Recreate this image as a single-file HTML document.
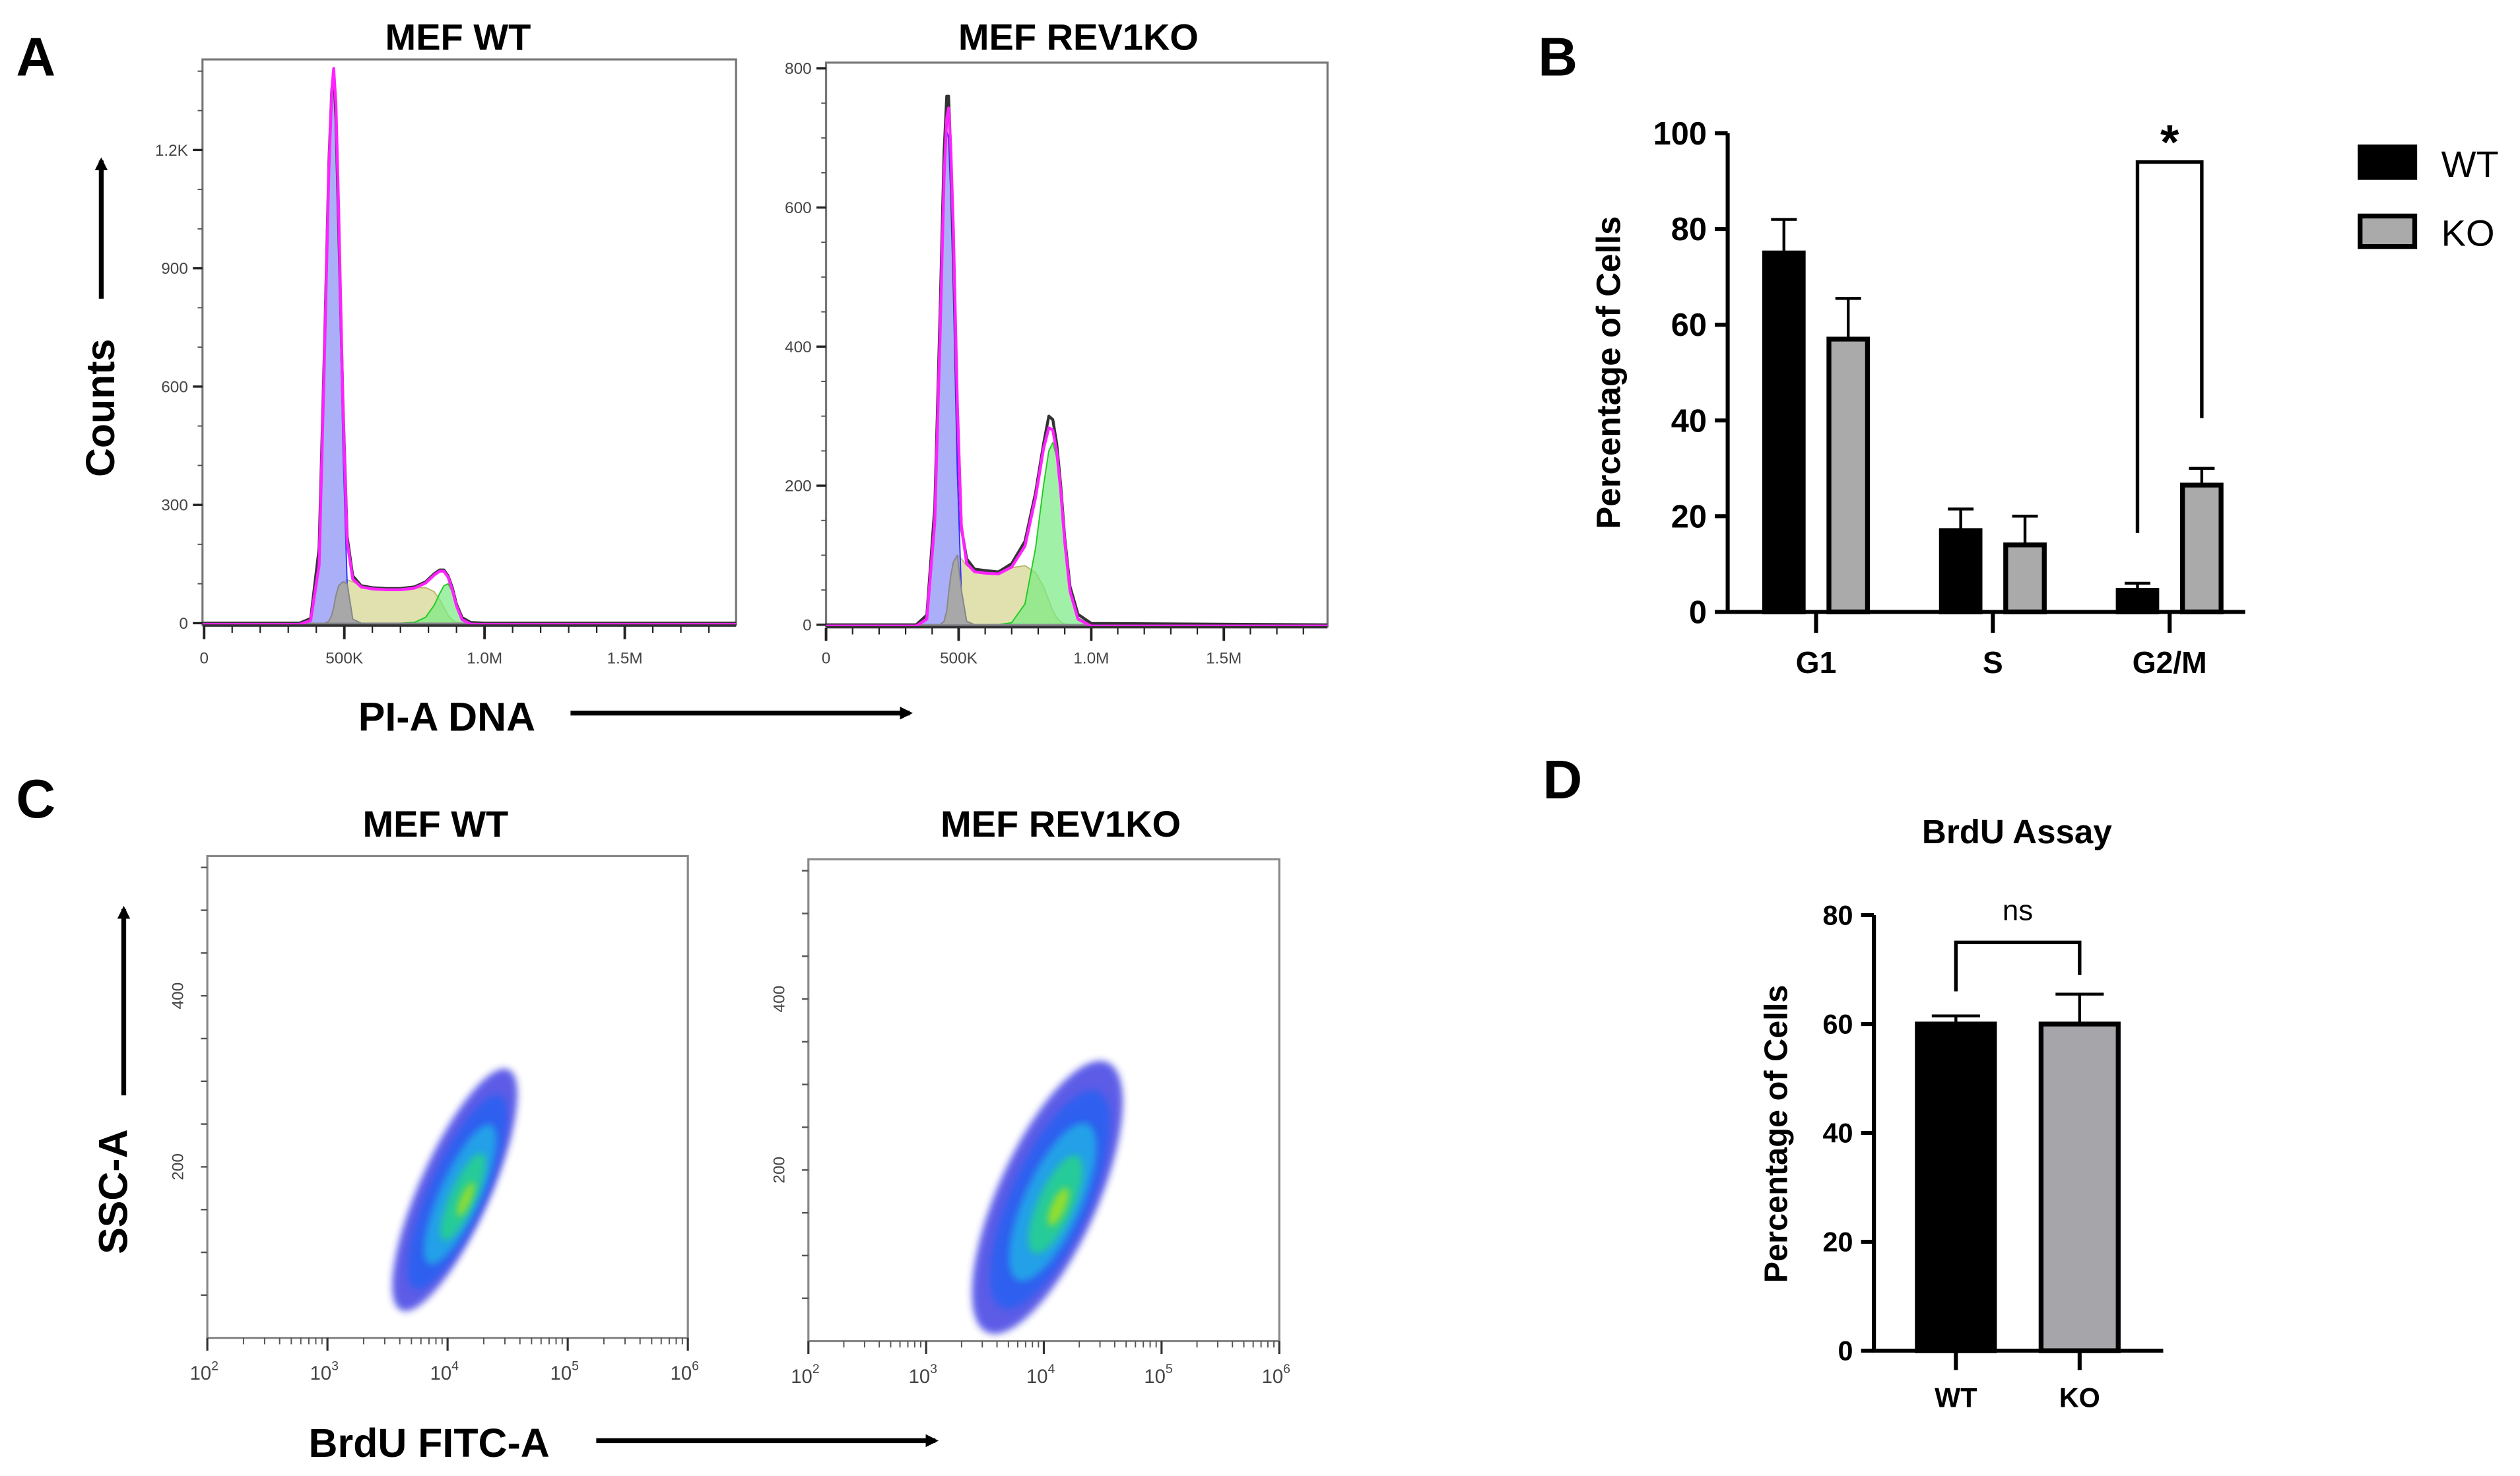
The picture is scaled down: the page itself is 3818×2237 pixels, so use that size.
<!DOCTYPE html>
<html><head><meta charset="utf-8">
<style>
html,body{margin:0;padding:0;background:#fff;}
svg{display:block;}
text{font-family:"Liberation Sans",sans-serif;}
.b{font-weight:bold;}
.tk{font-size:10px;fill:#444;}
</style></head>
<body>
<svg id="fig" xmlns="http://www.w3.org/2000/svg" width="3818" height="2237" viewBox="0 0 1568 919" preserveAspectRatio="none">
<defs>
<filter id="blur1" x="-50%" y="-50%" width="200%" height="200%"><feGaussianBlur stdDeviation="2.2"/></filter>
<marker id="ah" markerWidth="8" markerHeight="8" refX="6" refY="4" orient="auto" markerUnits="userSpaceOnUse"><path d="M0,0 L8,4 L0,8 z" fill="#000"/></marker>
</defs>
<text x="10" y="47" class="b" font-size="34">A</text>
<text x="957" y="47" class="b" font-size="34">B</text>
<text x="10" y="509" class="b" font-size="34">C</text>
<text x="960" y="497" class="b" font-size="34">D</text>

<text x="285" y="31" class="b" font-size="23" text-anchor="middle">MEF WT</text>
<text x="671" y="31" class="b" font-size="23" text-anchor="middle">MEF REV1KO</text>
<text transform="translate(71,254) rotate(-90)" class="b" font-size="25" text-anchor="middle">Counts</text>
<line x1="63" y1="186" x2="63" y2="100" stroke="#000" stroke-width="3" marker-end="url(#ah)"/>
<text x="278" y="455" class="b" font-size="25" text-anchor="middle">PI-A DNA</text>
<line x1="355" y1="444" x2="566" y2="444" stroke="#000" stroke-width="3" marker-end="url(#ah)"/>
<g id="histA"></g>

<text transform="translate(1008,232) rotate(-90)" class="b" font-size="21" text-anchor="middle">Percentage of Cells</text>
<g id="barB"></g>
<rect x="1467" y="90" width="37" height="22" fill="#000"/>
<text x="1519" y="110" font-size="23">WT</text>
<rect x="1468.5" y="134.5" width="34" height="19" fill="#aaa" stroke="#000" stroke-width="3"/>
<text x="1519" y="153" font-size="23">KO</text>

<text x="271" y="521" class="b" font-size="23" text-anchor="middle">MEF WT</text>
<text x="660" y="521" class="b" font-size="23" text-anchor="middle">MEF REV1KO</text>
<text transform="translate(79,742) rotate(-90)" class="b" font-size="25" text-anchor="middle">SSC-A</text>
<line x1="77" y1="682" x2="77" y2="566" stroke="#000" stroke-width="3" marker-end="url(#ah)"/>
<text x="267" y="907" class="b" font-size="25" text-anchor="middle">BrdU FITC-A</text>
<line x1="371" y1="897" x2="582" y2="897" stroke="#000" stroke-width="3" marker-end="url(#ah)"/>
<g id="scatC"></g>

<text x="1255" y="525" class="b" font-size="21" text-anchor="middle">BrdU Assay</text>
<text transform="translate(1112,706) rotate(-90)" class="b" font-size="20" text-anchor="middle">Percentage of Cells</text>
<g id="barD"></g>
</svg>
<script>
// ---------- Panel A data ----------
const dnaK = [340,380,410,430,445,455,462,470,480,495,510,530,560,600,650,700,750,790,820,840,855,870,885,900,920,950,1000];
const wtG1 = [0,10,150,700,1150,1330,1370,1250,950,450,100,10,0,0,0,0,0,0,0,0,0,0,0,0,0,0,0];
const wtS  = [0,0,0,0,5,20,40,70,95,105,110,105,95,90,88,88,90,90,80,60,40,20,8,2,0,0,0];
const wtG2 = [0,0,0,0,0,0,0,0,0,0,0,0,0,0,0,0,2,15,45,75,95,100,80,45,12,1,0];
const wtObs = [0,12,190,720,1170,1350,1400,1280,1000,560,220,120,95,90,88,88,92,105,125,135,135,120,90,48,14,2,0];
const koG1 = [0,10,150,420,640,710,700,620,480,220,50,5,0,0,0,0,0,0,0,0,0,0,0,0,0,0,0];
const koS  = [0,0,0,0,5,20,45,70,90,100,95,85,78,76,75,82,85,75,55,35,20,10,4,1,0,0,0];
const koG2 = [0,0,0,0,0,0,0,0,0,0,0,0,0,0,0,3,30,110,200,250,262,240,190,120,50,10,0];
const koObs = [0,14,170,450,680,760,760,680,540,310,140,95,80,78,76,88,120,190,260,300,295,260,200,125,55,15,2];
const wtYTicks = [0,300,600,900,1200];
const wtYLabels = ["0","300","600","900","1.2K"];
const koYTicks = [0,200,400,600,800];
const koYLabels = ["0","200","400","600","800"];
const dnaTicks = [0,500,1000,1500];
const dnaLabels = ["0","500K","1.0M","1.5M"];

// ---------- Panel B data ----------
const phases = ["G1","S","G2/M"];
const bWT = [75,17,4.5];
const bWTerr = [7,4.5,1.5];
const bKO = [57,14,26.5];
const bKOerr = [8.5,6,3.5];
const bTicks = [0,20,40,60,80,100];

// ---------- Panel C data ----------
const scatCenterLog = [4.06, 4.03];
const scatCenterSSC = [173, 168];
const scatMajor = [82, 92];
const scatMinor = [22, 31];
const scatLevels = [1, 0.8, 0.58, 0.36, 0.14];
const scatColors = ["#2828e0","#2a60f0","#20a8e8","#28d090","#a0e020"];
const sscTicks = [200,400];
const logTicks = [2,3,4,5,6];

// ---------- Panel D data ----------
const dCats = ["WT","KO"];
const dVals = [60,60];
const dErr = [1.5,5.5];
const dTicks = [0,20,40,60,80];

const NS = "http://www.w3.org/2000/svg";
function mk(tag, attrs, parent){const e=document.createElementNS(NS,tag);for(const k in attrs)e.setAttribute(k,attrs[k]);parent.appendChild(e);return e;}

// ---------- Panel A drawing ----------
const gA = document.getElementById('histA');
function drawHist(opt){
  const g = mk('g',{},gA);
  
  
  const X = v => opt.x0 + v*opt.kx;
  const Y = c => opt.y0 - c*opt.ky;
  const box = mk('rect',{x:opt.bl,y:opt.bt,width:opt.br-opt.bl,height:opt.y0+1-opt.bt,fill:'none',stroke:'#777','stroke-width':1.3},g);
  
  
  function area(vals, fill, stroke, nm){
    let d = 'M'+X(dnaK[0])+','+Y(0);
    vals.forEach((v,i)=>{d+=' L'+X(dnaK[i]).toFixed(2)+','+Y(v).toFixed(2);});
    d += ' L'+X(dnaK[dnaK.length-1])+','+Y(0)+' Z';
    const p = mk('path',{d:d,fill:fill,stroke:stroke,'stroke-width':0.8,'stroke-linejoin':'round'},g);
    
    
  }
  area(opt.s, 'rgba(215,215,150,0.75)', '#b8b870', 'area-s-phase');
  area(opt.g2, 'rgba(120,235,130,0.7)', '#22cc22', 'area-g2m-phase');
  area(opt.g1, 'rgba(150,155,245,0.8)', '#3030ff', 'area-g1-phase');
  area(opt.g1.map((v,i)=>Math.min(v,opt.s[i])), '#a8a8a8', '#888', 'area-overlap');
  function line(vals, color, w, nm, dy){
    let d='M'+opt.bl+','+(Y(0)+dy);
    vals.forEach((v,i)=>{d+=' L'+X(dnaK[i]).toFixed(2)+','+(Y(v)+dy).toFixed(2);});
    d+=' L'+opt.br+','+(Y(0)+dy);
    const p = mk('path',{d:d,fill:'none',stroke:color,'stroke-width':w,'stroke-linejoin':'round'},g);
    
    
  }
  line(opt.obs, '#333', 1.8, 'observed-histogram-line', 0);
  line(opt.g1.map((v,i)=>v+opt.s[i]+opt.g2[i]), '#ff22ff', 1.8, 'model-fit-line', 0.8);
  const base = mk('line',{x1:opt.bl,y1:Y(0)+1.5,x2:opt.br,y2:Y(0)+1.5,stroke:'#333','stroke-width':1.5},g);
  
  
  opt.yt.forEach((t,i)=>{
    const tl = mk('line',{x1:opt.bl-6,y1:Y(t),x2:opt.bl,y2:Y(t),stroke:'#222','stroke-width':1.4},g);
    
    
    const tx = mk('text',{x:opt.bl-9,y:Y(t)+3.5,'text-anchor':'end','class':'tk'},g);
    
    
    tx.textContent = opt.yl[i];
  });
  for(let k=0;k<=opt.maxMinor;k++){
    const t = k*opt.minorStep;
    if (opt.yt.includes(t)) continue;
    const ml = mk('line',{x1:opt.bl-3,y1:Y(t),x2:opt.bl,y2:Y(t),stroke:'#555','stroke-width':0.8},g);
    
    
  }
  for(let v=0; X(v)<=opt.br+0.5; v+=100){
    const major = dnaTicks.includes(v);
    const xl = mk('line',{x1:X(v),y1:Y(0)+2,x2:X(v),y2:Y(0)+(major?10:6),stroke:'#222','stroke-width':major?1.6:0.9},g);
    
    
  }
  dnaTicks.forEach((v,i)=>{
    const tx = mk('text',{x:X(v),y:413,'text-anchor':'middle','class':'tk'},g);
    
    
    tx.textContent = dnaLabels[i];
  });
}
drawHist({name:'histogram-wt',x0:127,kx:0.1745,y0:388,ky:0.2455,bl:126,br:458,bt:37,g1:wtG1,s:wtS,g2:wtG2,obs:wtObs,yt:wtYTicks,yl:wtYLabels,minorStep:100,maxMinor:14});
drawHist({name:'histogram-ko',x0:514,kx:0.165,y0:389,ky:0.433,bl:514,br:826,bt:39,g1:koG1,s:koS,g2:koG2,obs:koObs,yt:koYTicks,yl:koYLabels,minorStep:50,maxMinor:16});

// ---------- Panel B drawing ----------
const gB = document.getElementById('barB');
const bAx = 1075, bY0 = 381, bK = 2.98;
const yB = v => bY0 - v*bK;
const xB = i => 1130 + i*110;
const bAxis = mk('path',{d:`M${bAx},${yB(100)} L${bAx},${bY0} L1397,${bY0}`,fill:'none',stroke:'#000','stroke-width':2.5},gB);


bTicks.forEach(t=>{
  const l = mk('line',{x1:bAx-8,y1:yB(t),x2:bAx,y2:yB(t),stroke:'#000','stroke-width':2.5},gB);
  
  
  const tx = mk('text',{x:bAx-13,y:yB(t)+7,'text-anchor':'end','font-size':20,'font-weight':'bold'},gB);
  
  
  tx.textContent = t;
});
phases.forEach((p,i)=>{
  const l = mk('line',{x1:xB(i),y1:bY0,x2:xB(i),y2:bY0+13,stroke:'#000','stroke-width':2.5},gB);
  
  
  const tx = mk('text',{x:xB(i),y:bY0+38,'text-anchor':'middle','font-size':19,'font-weight':'bold'},gB);
  
  
  tx.textContent = p;
  [[bWT,bWTerr,-20,'#000','wt'],[bKO,bKOerr,20,'#aaa','ko']].forEach(([vals,errs,off,col,nm])=>{
    const cx = xB(i)+off;
    const e = mk('path',{d:`M${cx},${yB(vals[i])} L${cx},${yB(vals[i]+errs[i])} M${cx-8},${yB(vals[i]+errs[i])} L${cx+8},${yB(vals[i]+errs[i])}`,stroke:'#000','stroke-width':1.8,fill:'none'},gB);
    
    
    const r = mk('rect',{x:cx-12,y:yB(vals[i]),width:24,height:vals[i]*bK,fill:col,stroke:'#000','stroke-width':3},gB);
    
    
  });
});
const brB = mk('path',{d:`M${xB(2)-20},${yB(bWT[2]+12)} L${xB(2)-20},${yB(94)} L${xB(2)+20},${yB(94)} L${xB(2)+20},${yB(bKO[2]+14)}`,fill:'none',stroke:'#000','stroke-width':2.2},gB);


const star = mk('text',{x:xB(2),y:yB(94)-2,'text-anchor':'middle','font-size':30,'font-weight':'bold'},gB);


star.textContent = '*';

// ---------- Panel C drawing ----------
const gC = document.getElementById('scatC');
const boxes = [{l:129,r:428,t:533,b:833,name:'scatter-wt'},{l:503,r:796,t:535,b:835,name:'scatter-ko'}];
boxes.forEach((bx,pi)=>{
  const g = mk('g',{},gC);
  
  
  const dec = (bx.r-bx.l)/4;
  const X = lg => bx.l + (lg-2)*dec;
  const Y = s => bx.b - s*0.5325;
  const fr = mk('rect',{x:bx.l,y:bx.t,width:bx.r-bx.l,height:bx.b-bx.t,fill:'none',stroke:'#888','stroke-width':1.3},g);
  
  
  const cx = X(scatCenterLog[pi]), cy = Y(scatCenterSSC[pi]);
  scatLevels.forEach((lv,k)=>{
    const e = mk('ellipse',{cx:cx-(1-lv)*3,cy:cy+(1-lv)*10,rx:scatMajor[pi]*lv,ry:scatMinor[pi]*lv,fill:scatColors[k],opacity:k===0?0.75:0.9,filter:'url(#blur1)',transform:`rotate(-66 ${cx} ${cy})`},g);
    
    
  });
  sscTicks.forEach(t=>{
    const tx = mk('text',{transform:`translate(${bx.l-15},${Y(t)}) rotate(-90)`,'text-anchor':'middle','class':'tk','font-size':11},g);
    
    
    tx.textContent = t;
  });
  for(let s=50;s<=550;s+=50){
    if(Y(s)<bx.t) break;
    const l = mk('line',{x1:bx.l-4,y1:Y(s),x2:bx.l,y2:Y(s),stroke:'#555','stroke-width':1},g);
    
    
  }
  logTicks.forEach(lg=>{
    const l = mk('line',{x1:X(lg),y1:bx.b,x2:X(lg),y2:bx.b+8,stroke:'#333','stroke-width':1.3},g);
    
    
    if(lg<6){for(let m=2;m<10;m++){
      const ml = mk('line',{x1:X(lg+Math.log10(m)),y1:bx.b,x2:X(lg+Math.log10(m)),y2:bx.b+4,stroke:'#555','stroke-width':0.8},g);
      
      
    }}
    const tx = mk('text',{x:X(lg)-2,y:bx.b+26,'text-anchor':'middle','font-size':12,fill:'#444'},g);
    
    
    tx.textContent = '10';
    const sup = mk('tspan',{dy:-6,'font-size':8},tx);
    
    
    sup.textContent = lg;
  });
});

// ---------- Panel D drawing ----------
const gD = document.getElementById('barD');
const dAx = 1166, dY0 = 841, dK = 3.39;
const yD = v => dY0 - v*dK;
const xD = i => 1217 + i*77;
const dAxis = mk('path',{d:`M${dAx},${yD(80)} L${dAx},${dY0} L1346,${dY0}`,fill:'none',stroke:'#000','stroke-width':2.5},gD);


dTicks.forEach(t=>{
  const l = mk('line',{x1:dAx-8,y1:yD(t),x2:dAx,y2:yD(t),stroke:'#000','stroke-width':2.5},gD);
  
  
  const tx = mk('text',{x:dAx-13,y:yD(t)+6,'text-anchor':'end','font-size':17,'font-weight':'bold'},gD);
  
  
  tx.textContent = t;
});
dCats.forEach((c,i)=>{
  const l = mk('line',{x1:xD(i),y1:dY0,x2:xD(i),y2:dY0+12,stroke:'#000','stroke-width':2.5},gD);
  
  
  const tx = mk('text',{x:xD(i),y:dY0+35,'text-anchor':'middle','font-size':17,'font-weight':'bold'},gD);
  
  
  tx.textContent = c;
  const e = mk('path',{d:`M${xD(i)},${yD(dVals[i])} L${xD(i)},${yD(dVals[i]+dErr[i])} M${xD(i)-15},${yD(dVals[i]+dErr[i])} L${xD(i)+15},${yD(dVals[i]+dErr[i])}`,stroke:'#000','stroke-width':1.8,fill:'none'},gD);
  
  
  const r = mk('rect',{x:xD(i)-24,y:yD(dVals[i]),width:48,height:dVals[i]*dK,fill:i===0?'#000':'#a6a6aa',stroke:'#000','stroke-width':3},gD);
  
  
});
const brD = mk('path',{d:`M${xD(0)},${yD(66)} L${xD(0)},${yD(75)} L${xD(1)},${yD(75)} L${xD(1)},${yD(69)}`,fill:'none',stroke:'#000','stroke-width':2.2},gD);


const ns = mk('text',{x:(xD(0)+xD(1))/2,y:yD(80)+3,'text-anchor':'middle','font-size':18},gD);


ns.textContent = 'ns';
</script>
</body></html>
